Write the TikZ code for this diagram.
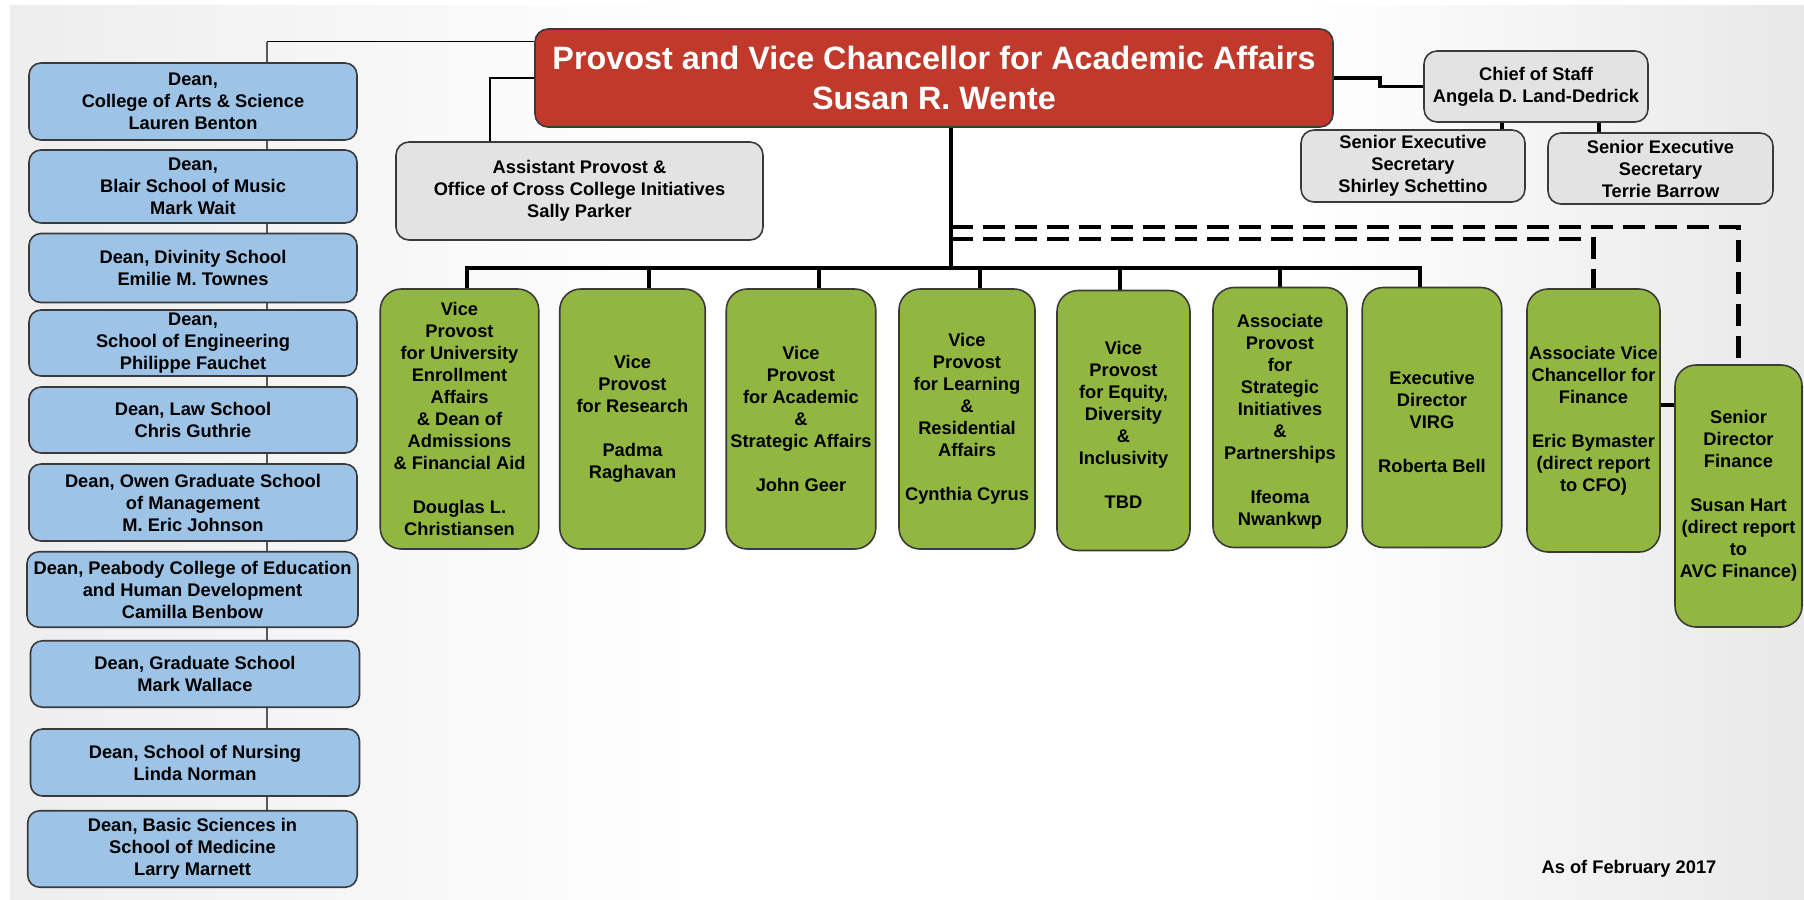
\documentclass[tikz,border=0pt]{standalone}
\usepackage{fontspec}
\setmainfont{Liberation Sans}
\definecolor{provred}{HTML}{C0392B}
\definecolor{deanblue}{HTML}{9DC3E6}
\definecolor{vpgreen}{HTML}{92B740}
\definecolor{staffgray}{HTML}{E3E3E3}
\definecolor{boxedge}{HTML}{3A3A3A}
\pgfdeclarelayer{back}
\pgfdeclarelayer{lines}
\pgfsetlayers{back,lines,main}
\tikzset{
 box/.style={draw=boxedge, line width=0.9pt, rectangle, align=center, inner sep=0pt, font=\fontsize{10.4}{12.5}\selectfont\bfseries},
 dean/.style={box, fill=deanblue, rounded corners=0.24cm},
 staff/.style={box, fill=staffgray, rounded corners=0.26cm},
 vp/.style={box, fill=vpgreen, rounded corners=0.42cm, minimum height=5.2cm},
 head/.style={box, fill=provred, text=white, rounded corners=0.26cm, font=\fontsize{18.4}{22.8}\selectfont\bfseries},
 thinline/.style={line width=0.9pt},
 busline/.style={line width=2pt},
 dashline/.style={line width=2.8pt, dash pattern=on 0.44cm off 0.2cm},
}
\begin{document}
\begin{tikzpicture}
\useasboundingbox (0,0) rectangle (36.08,-17.98);
\begin{pgfonlayer}{back}
 \fill[white] (0,0) rectangle (36.08,-17.98);
 \shade[left color=black!7, right color=white] (0.2,-0.1) rectangle (14,-17.98);
 \shade[left color=white, right color=black!9] (26,-0.1) rectangle (36.08,-17.98);
\end{pgfonlayer}

 \node[head, minimum width=15.96cm, minimum height=1.96cm] (provost) at (18.68,-1.56) {Provost and Vice Chancellor for Academic Affairs\\Susan R. Wente};

 \node[staff, minimum width=4.48cm, minimum height=1.42cm] (chief) at (30.72,-1.73) {Chief of Staff\\Angela D. Land-Dedrick};
 \node[staff, minimum width=4.48cm, minimum height=1.44cm] (sec1) at (28.26,-3.32) {Senior Executive\\Secretary\\Shirley Schettino};
 \node[staff, minimum width=4.50cm, minimum height=1.42cm] (sec2) at (33.21,-3.37) {Senior Executive\\Secretary\\Terrie Barrow};
 \node[staff, minimum width=7.34cm, minimum height=1.96cm] (asst) at (11.59,-3.82) {Assistant Provost \&\\Office of Cross College Initiatives\\Sally Parker};

 \node[dean, minimum width=6.56cm, minimum height=1.54cm] (d1) at (3.86,-2.03) {Dean,\\College of Arts \& Science\\Lauren Benton};
 \node[dean, minimum width=6.56cm, minimum height=1.46cm] (d2) at (3.86,-3.73) {Dean,\\Blair School of Music\\Mark Wait};
 \node[dean, minimum width=6.56cm, minimum height=1.38cm] (d3) at (3.86,-5.36) {Dean, Divinity School\\Emilie M. Townes};
 \node[dean, minimum width=6.56cm, minimum height=1.32cm] (d4) at (3.86,-6.86) {Dean,\\School of Engineering\\Philippe Fauchet};
 \node[dean, minimum width=6.56cm, minimum height=1.32cm] (d5) at (3.86,-8.40) {Dean, Law School\\Chris Guthrie};
 \node[dean, minimum width=6.56cm, minimum height=1.54cm] (d6) at (3.86,-10.05) {Dean, Owen Graduate School\\of Management\\M. Eric Johnson};
 \node[dean, minimum width=6.62cm, minimum height=1.51cm] (d7) at (3.85,-11.79) {Dean, Peabody College of Education\\and Human Development\\Camilla Benbow};
 \node[dean, minimum width=6.58cm, minimum height=1.33cm] (d8) at (3.90,-13.48) {Dean, Graduate School\\Mark Wallace};
 \node[dean, minimum width=6.58cm, minimum height=1.34cm] (d9) at (3.90,-15.25) {Dean, School of Nursing\\Linda Norman};
 \node[dean, minimum width=6.59cm, minimum height=1.53cm] (d10) at (3.85,-16.98) {Dean, Basic Sciences in\\School of Medicine\\Larry Marnett};

 \node[vp, minimum width=3.17cm] (g1) at (9.19,-8.38) {Vice\\Provost\\for University\\Enrollment\\Affairs\\\& Dean of\\Admissions\\\& Financial Aid\\[12.5pt]Douglas L.\\Christiansen};
 \node[vp, minimum width=2.91cm] (g2) at (12.65,-8.38) {Vice\\Provost\\for Research\\[12.5pt]Padma\\Raghavan};
 \node[vp, minimum width=2.99cm] (g3) at (16.02,-8.38) {Vice\\Provost\\for Academic\\\&\\Strategic Affairs\\[12.5pt]John Geer};
 \node[vp, minimum width=2.72cm] (g4) at (19.34,-8.38) {Vice\\Provost\\for Learning\\\&\\Residential\\Affairs\\[12.5pt]Cynthia Cyrus};
 \node[vp, minimum width=2.66cm] (g5) at (22.47,-8.41) {\mbox{}\\Vice\\Provost\\for Equity,\\Diversity\\\&\\Inclusivity\\[12.5pt]TBD};
 \node[vp, minimum width=2.68cm] (g6) at (25.60,-8.35) {\mbox{}\\Associate\\Provost\\for\\Strategic\\Initiatives\\\&\\Partnerships\\[12.5pt]Ifeoma\\Nwankwp};
 \node[vp, minimum width=2.79cm] (g7) at (28.64,-8.35) {\mbox{}\\Executive\\Director\\VIRG\\[12.5pt]Roberta Bell};
 \node[vp, minimum width=2.66cm, minimum height=5.26cm] (g8) at (31.87,-8.41) {Associate Vice\\Chancellor for\\Finance\\[12.5pt]Eric Bymaster\\(direct report\\to CFO)};
 \node[vp, minimum width=2.54cm, minimum height=5.24cm] (g9) at (34.77,-9.92) {Senior\\Director\\Finance\\[12.5pt]Susan Hart\\(direct report\\to\\AVC Finance)};

 \node[font=\fontsize{10.4}{12.5}\selectfont\bfseries] (asof) at (32.58,-17.38) {As of February 2017};

 \coordinate (dtop) at (5.34,-0.83);
 \coordinate (aturn) at (9.80,-1.56);
 \coordinate (bus) at (19.02,-5.36);
 \coordinate (busL) at (9.34,-5.36);
 \coordinate (busR) at (28.40,-5.36);
 \coordinate (dashA) at (19.02,-4.54);
 \coordinate (dashB) at (19.02,-4.78);

\begin{pgfonlayer}{lines}
 \draw[thinline] (provost.west |- dtop) -- (dtop);
 \draw[thinline, black!65] (dtop) -- (dtop |- d10.north);
 \draw[thinline] (provost.west) -- (aturn) -- (aturn |- asst.north);
 \draw[busline] (provost.south -| bus) -- (bus);
 \draw[busline] (g1.north -| busL) -- (busL) -- (busR) -- (g7.north -| busR);
 \foreach \g/\sx in {g2/12.98, g3/16.38, g4/19.60, g5/22.40, g6/25.60}
  \draw[busline] (\sx,0 |- bus) -- (\sx,0 |- \g.north);
 \draw[dashline] (dashA) -| (g9.north);
 \draw[dashline] (dashB) -| (g8.north);
 \draw[busline] (provost.east) -- ++(0.92,0) |- (chief.west);
 \draw[busline] (chief.south -| 30.04,0) -- (sec1.north -| 30.04,0);
 \draw[busline] (chief.south -| 31.98,0) -- (sec2.north -| 31.98,0);
 \draw[busline] (g8.east |- 0,-8.10) -- (g9.west |- 0,-8.10);
\end{pgfonlayer}
\end{tikzpicture}
\end{document}
